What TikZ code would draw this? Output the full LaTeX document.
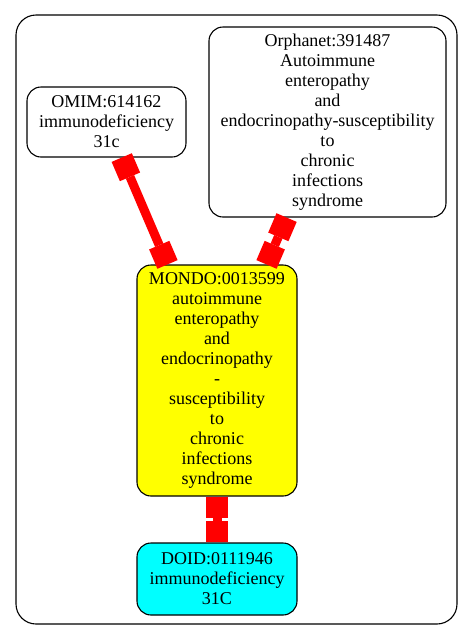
\documentclass[tikz,border=0pt]{standalone}
\usepackage{fontspec}
\setmainfont{Liberation Serif}
\usetikzlibrary{arrows.meta}
\definecolor{nodeyellow}{RGB}{255,255,0}
\definecolor{nodecyan}{RGB}{0,255,255}
\definecolor{edgered}{RGB}{255,0,0}
\tikzset{
  box/.style={draw=black, line width=1.1pt, rounded corners=14pt, inner sep=0pt, align=center,
    font=\fontsize{18}{20}\selectfont},
  tee/.style={draw=edgered, line width=9pt,
    {Rectangle[length=21pt,width=22pt,line width=0pt]}-{Rectangle[length=21pt,width=22pt,line width=0pt]}},
}
\begin{document}
\begin{tikzpicture}[x=1pt,y=-1pt]
\useasboundingbox (0,0) rectangle (473,641);
\draw[line width=1.1pt, rounded corners=20pt] (16,15) rectangle (457,624);
\node[box, minimum width=159pt, minimum height=70pt] (omim) at (106.5,122)
  {OMIM:614162\\immunodeficiency\\31c};
\node[box, minimum width=237pt, minimum height=190pt] (orpha) at (327.5,122)
  {Orphanet:391487\\Autoimmune\\enteropathy\\and\\endocrinopathy-susceptibility\\to\\chronic\\infections\\syndrome};
\node[box, fill=nodeyellow, minimum width=160pt, minimum height=231pt] (mondo) at (217,380.5)
  {MONDO:0013599\\autoimmune\\enteropathy\\and\\endocrinopathy\\-\\susceptibility\\to\\chronic\\infections\\syndrome};
\node[box, fill=nodecyan, minimum width=160pt, minimum height=72pt] (doid) at (217,579)
  {DOID:0111946\\immunodeficiency\\31C};
\draw[tee] (omim) -- (mondo);
\draw[tee] (orpha) -- (mondo);
\draw[tee] (mondo) -- (doid);
\end{tikzpicture}
\end{document}
